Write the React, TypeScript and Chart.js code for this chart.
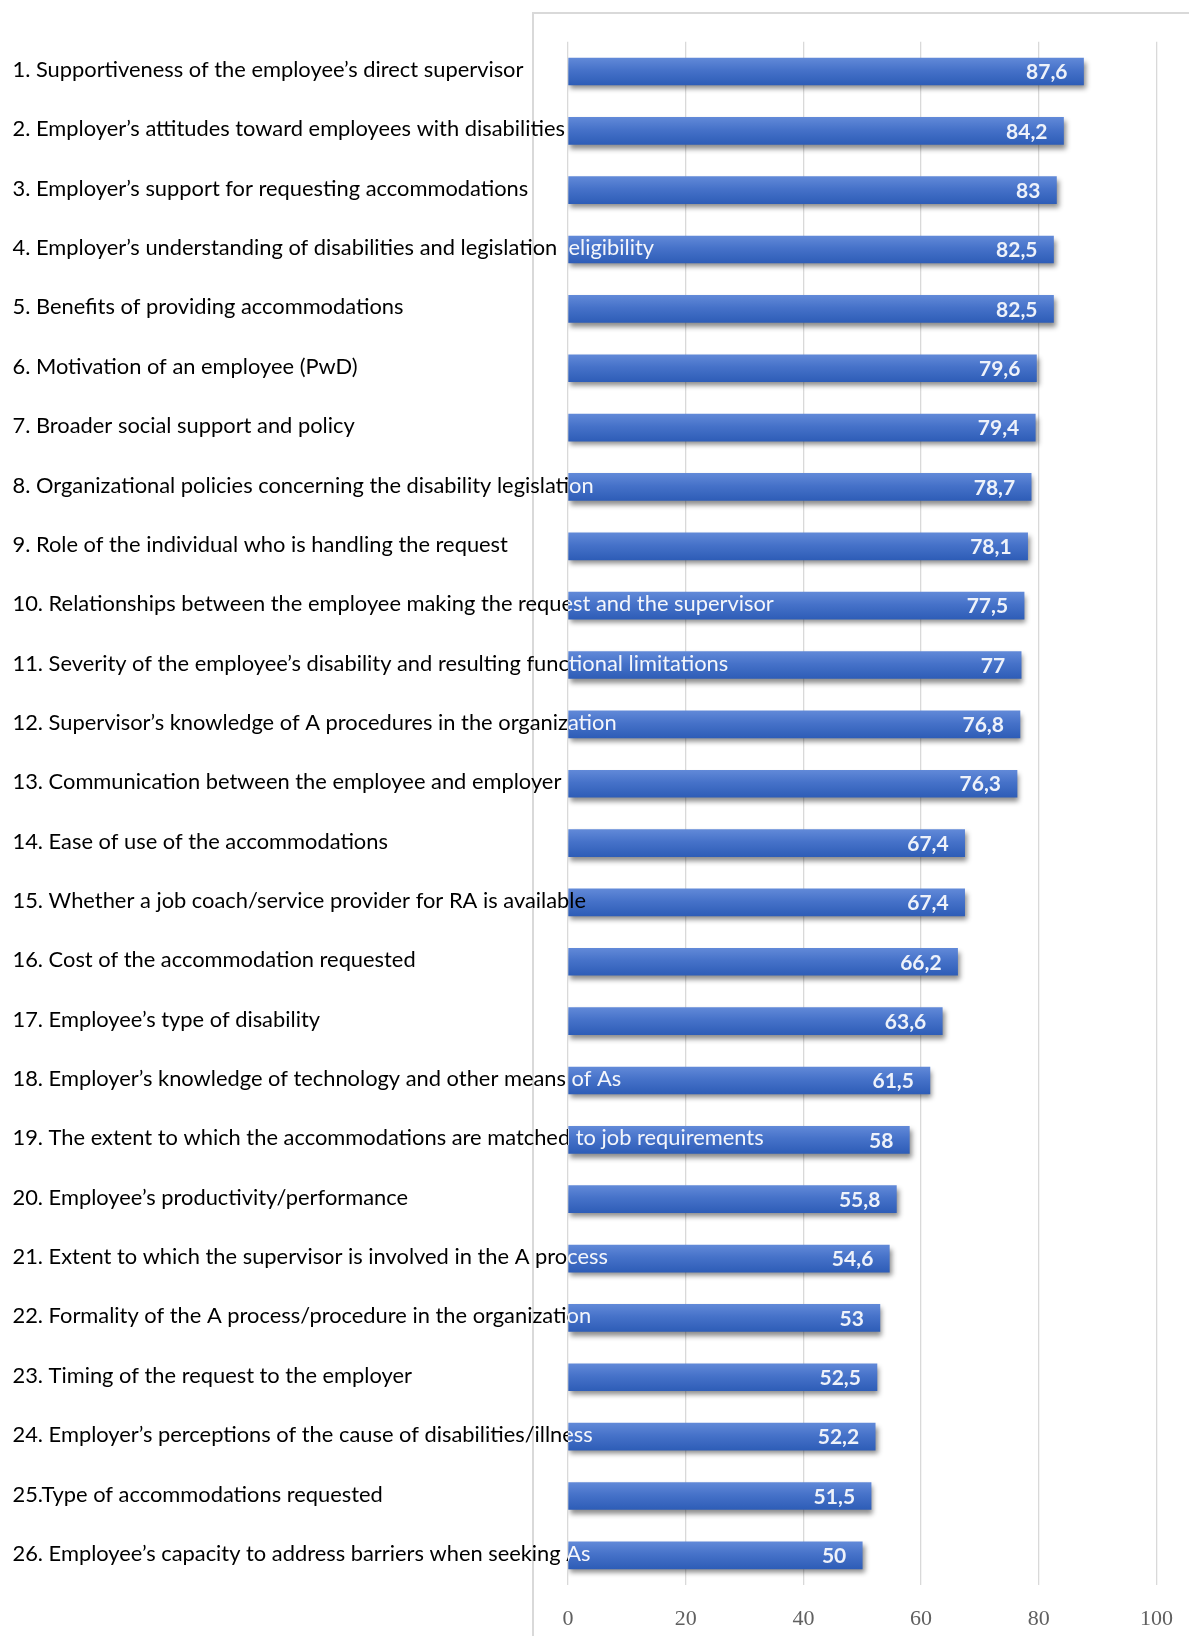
import React, { useEffect, useRef } from "react";
import { Chart, registerables } from "chart.js";

Chart.register(...registerables);

const categories: string[] = [
  "1. Supportiveness of the employee’s direct supervisor",
  "2. Employer’s attitudes toward employees with disabilities",
  "3. Employer’s support for requesting accommodations",
  "4. Employer’s understanding of disabilities and legislation  eligibility",
  "5. Benefits of providing accommodations",
  "6. Motivation of an employee (PwD)",
  "7. Broader social support and policy",
  "8. Organizational policies concerning the disability legislation",
  "9. Role of the individual who is handling the request",
  "10. Relationships between the employee making the request and the supervisor",
  "11. Severity of the employee’s disability and resulting functional limitations",
  "12. Supervisor’s knowledge of A procedures in the organization",
  "13. Communication between the employee and employer",
  "14. Ease of use of the accommodations",
  "15. Whether a job coach/service provider for RA is available",
  "16. Cost of the accommodation requested",
  "17. Employee’s type of disability",
  "18. Employer’s knowledge of technology and other means of As",
  "19. The extent to which the accommodations are matched to job requirements",
  "20. Employee’s productivity/performance",
  "21. Extent to which the supervisor is involved in the A process",
  "22. Formality of the A process/procedure in the organization",
  "23. Timing of the request to the employer",
  "24. Employer’s perceptions of the cause of disabilities/illness",
  "25.Type of accommodations requested",
  "26. Employee’s capacity to address barriers when seeking As",
];

const values: number[] = [
  87.6, 84.2, 83, 82.5, 82.5, 79.6, 79.4, 78.7, 78.1, 77.5, 77, 76.8, 76.3,
  67.4, 67.4, 66.2, 63.6, 61.5, 58, 55.8, 54.6, 53, 52.5, 52.2, 51.5, 50,
];

const xTickValues: number[] = [0, 20, 40, 60, 80, 100];

// labels whose overflowing part stays black when lying on the bar
const blackOverflowIdx: number[] = [14];

const W = 1189;
const H = 1636;

const overlayPlugin = {
  id: "overlay",
  beforeDraw(chart: any) {
    const ctx = chart.ctx;
    ctx.save();
    ctx.strokeStyle = "#d9d9d9";
    ctx.lineWidth = 2;
    ctx.beginPath();
    ctx.moveTo(533, chart.height);
    ctx.lineTo(533, 13);
    ctx.lineTo(chart.width, 13);
    ctx.stroke();
    ctx.restore();
  },
  beforeDatasetsDraw(chart: any) {
    const ctx = chart.ctx;
    ctx.save();
    ctx.shadowColor = "rgba(0,0,0,0.45)";
    ctx.shadowBlur = 5;
    ctx.shadowOffsetX = 2;
    ctx.shadowOffsetY = 4;
  },
  afterDatasetsDraw(chart: any) {
    const ctx = chart.ctx;
    ctx.restore();
    const yScale = chart.scales.y;
    const left = chart.chartArea.left;
    const meta = chart.getDatasetMeta(0);

    ctx.save();
    ctx.font = "20px Lato";
    const m = ctx.measureText(categories[0]).width;
    const fs = (20 * 511) / m;
    ctx.font = `${fs}px Lato`;
    ctx.textBaseline = "middle";
    ctx.textAlign = "left";
    categories.forEach((lab, i) => {
      const yc = yScale.getPixelForValue(i) - 1.5;
      ctx.save();
      ctx.beginPath();
      ctx.rect(0, 0, left, chart.height);
      ctx.clip();
      ctx.fillStyle = "#000000";
      ctx.fillText(lab, 12.5, yc);
      ctx.restore();
      ctx.save();
      ctx.beginPath();
      ctx.rect(left, 0, chart.width - left, chart.height);
      ctx.clip();
      ctx.fillStyle = blackOverflowIdx.includes(i) ? "#000000" : "#f4f6fb";
      ctx.fillText(lab, 12.5, yc);
      ctx.restore();
    });

    ctx.font = "bold 21px Lato";
    ctx.textAlign = "right";
    ctx.fillStyle = "#eef2fa";
    meta.data.forEach((bar: any, i: number) => {
      const txt = String(values[i]).replace(".", ",");
      ctx.fillText(txt, bar.x - 16, bar.y + 1);
    });
    ctx.restore();
  },
};

export default function App() {
  const ref = useRef<HTMLCanvasElement | null>(null);
  useEffect(() => {
    if (!ref.current) return;
    const chart = new Chart(ref.current, {
      type: "bar",
      data: {
        labels: categories,
        datasets: [
          {
            data: values,
            barThickness: 27,
            borderWidth: 0,
            backgroundColor: (c: any) => {
              const ch = c.chart;
              const ys = ch.scales && ch.scales.y;
              if (!ys || c.dataIndex === undefined) return "#4472c4";
              const yc = ys.getPixelForValue(c.dataIndex);
              if (!isFinite(yc)) return "#4472c4";
              const g = ch.ctx.createLinearGradient(0, yc - 13.5, 0, yc + 13.5);
              g.addColorStop(0, "#6189d8");
              g.addColorStop(0.45, "#4672c9");
              g.addColorStop(1, "#2e5db7");
              return g;
            },
          },
        ],
      },
      options: {
        indexAxis: "y",
        responsive: false,
        animation: false,
        devicePixelRatio: 1,
        layout: { padding: { left: 568, right: 32.5, top: 41.8, bottom: 0 } },
        plugins: {
          legend: { display: false },
          tooltip: { enabled: false },
        },
        scales: {
          x: {
            min: 0,
            max: 100,
            afterBuildTicks: (s: any) => {
              s.ticks = xTickValues.map((v) => ({ value: v }));
            },
            ticks: {
              color: "#606060",
              font: { family: "Liberation Serif", size: 22 },
              padding: 21,
            },
            grid: { color: "#d9d9d9", lineWidth: 1.3, drawTicks: false },
            border: { display: false },
            afterFit: (s: any) => {
              s.height = 51;
              s.paddingLeft = 0;
              s.paddingRight = 0;
            },
          },
          y: {
            display: false,
            grid: { display: false },
          },
        },
      },
      plugins: [overlayPlugin],
    } as any);
    return () => chart.destroy();
  }, []);
  return (
    <div style={{ position: "absolute", left: 0, top: 0, width: W, height: H, background: "#fff" }}>
      <canvas ref={ref} width={W} height={H} style={{ display: "block" }} />
    </div>
  );
}
